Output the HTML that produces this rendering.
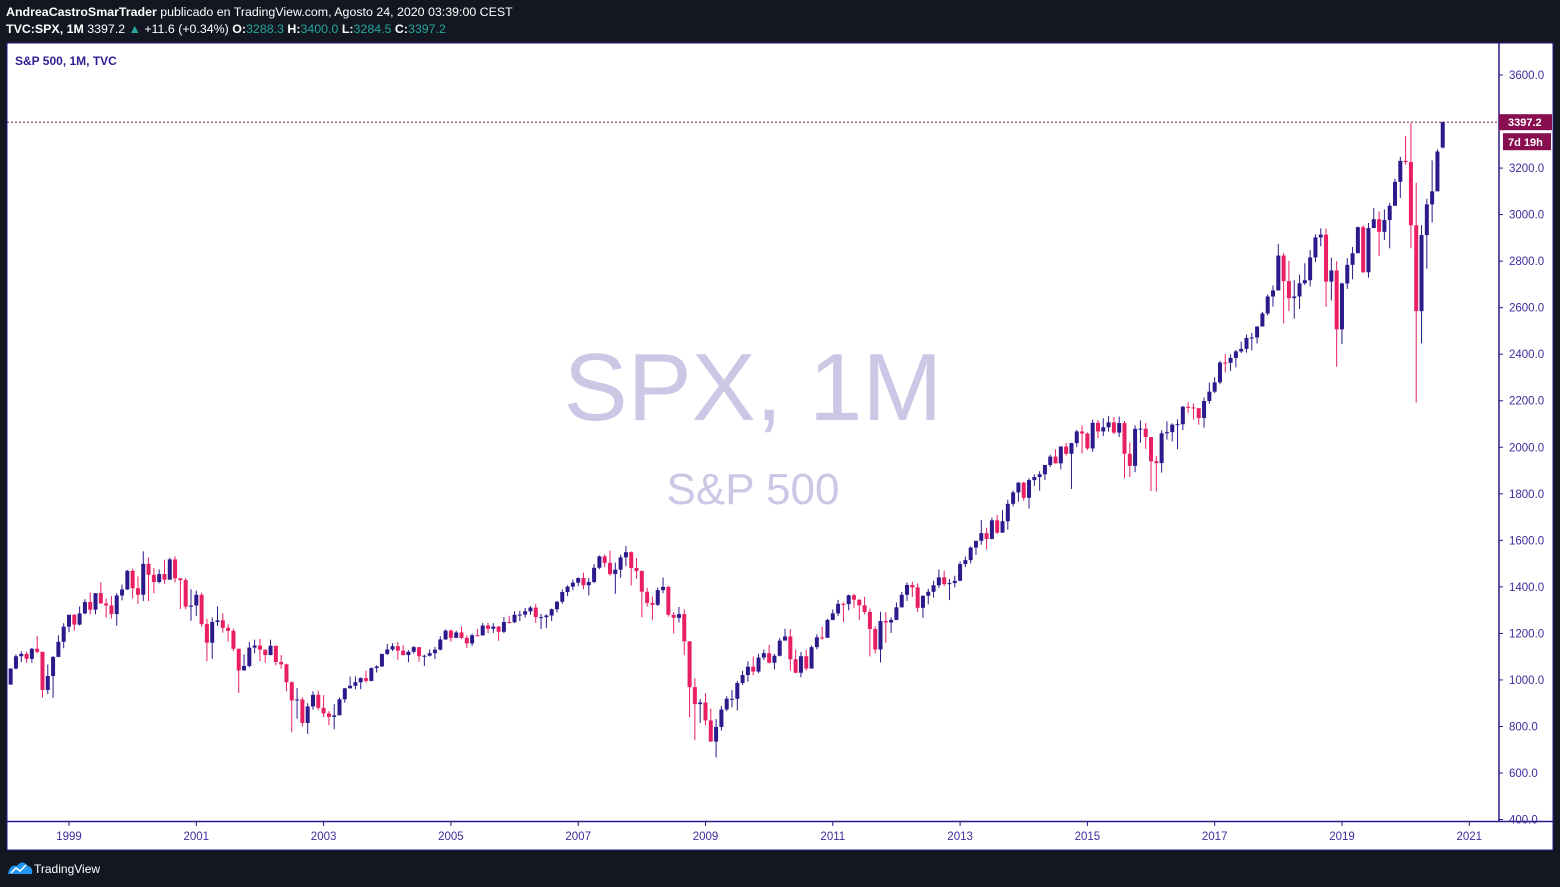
<!DOCTYPE html>
<html><head><meta charset="utf-8"><style>
body{margin:0;width:1560px;height:887px;background:#131722;overflow:hidden;font-family:"Liberation Sans",sans-serif;position:relative}
.hdr{position:absolute;left:6px;color:#fff;font-size:12.4px;white-space:nowrap}
.g{color:#26a69a}
svg{position:absolute;left:0;top:0}
</style></head><body>
<div class="hdr" style="top:5px"><b>AndreaCastroSmarTrader</b> publicado en TradingView.com, Agosto 24, 2020 03:39:00 CEST</div>
<div class="hdr" style="top:22px"><b>TVC:SPX, 1M</b> 3397.2 <span class="g">▲</span> +11.6 (+0.34%) <b>O:</b><span class="g">3288.3</span> <b>H:</b><span class="g">3400.0</span> <b>L:</b><span class="g">3284.5</span> <b>C:</b><span class="g">3397.2</span></div>
<svg id="c" width="1560" height="887"></svg>
<script>
const startYear=1998, startMonth=1; // Feb 1998
const closes=[1049,1102,1112,1091,1134,1121,957,1017,1099,1164,1229,
1280,1238,1286,1335,1302,1373,1329,1320,1283,1363,1389,1469,
1394,1366,1499,1452,1421,1455,1431,1518,1437,1429,1315,1320,
1366,1240,1160,1249,1256,1224,1211,1134,1041,1060,1139,1148,
1130,1107,1147,1077,1067,990,912,916,815,886,936,880,
856,841,848,917,964,975,990,1008,996,1051,1058,1112,
1131,1145,1126,1107,1121,1141,1102,1104,1115,1130,1174,1212,
1181,1204,1181,1157,1192,1191,1234,1220,1229,1207,1249,1248,
1280,1281,1295,1311,1270,1270,1277,1304,1336,1378,1401,1418,
1438,1407,1421,1482,1531,1503,1455,1474,1527,1549,1481,1468,
1379,1331,1323,1386,1400,1280,1267,1283,1166,969,896,903,
826,735,798,873,919,919,987,1021,1057,1036,1096,1115,
1074,1104,1169,1187,1089,1031,1102,1049,1141,1183,1181,1258,
1286,1327,1326,1364,1345,1321,1292,1219,1131,1253,1247,1258,
1312,1366,1408,1398,1310,1362,1379,1407,1441,1412,1416,1426,
1498,1515,1569,1598,1631,1606,1686,1633,1682,1757,1806,1848,
1783,1859,1872,1884,1924,1960,1931,2003,1972,2018,2068,2059,
1995,2105,2068,2086,2107,2063,2104,1972,1920,2079,2080,2044,
1940,1932,2060,2065,2097,2099,2174,2171,2168,2126,2199,2239,
2279,2364,2363,2384,2412,2423,2470,2472,2519,2575,2648,2674,
2824,2714,2641,2648,2705,2718,2816,2902,2914,2712,2760,2507,
2704,2784,2834,2946,2752,2942,2980,2926,2977,3038,3141,3231,
3226,2954,2585,2912,3044,3100,3271,3397.2];
const highs=[1050,1110,1123,1122,1138,1190,1121,1066,1103,1192,1244,
1280,1283,1316,1347,1375,1373,1420,1350,1361,1373,1410,1473,
1478,1445,1553,1527,1482,1475,1517,1525,1531,1437,1438,1390,
1384,1376,1263,1269,1316,1286,1239,1220,1135,1110,1163,1173,
1176,1131,1173,1147,1107,1070,994,965,925,900,951,954,
935,866,896,924,965,1015,1015,1011,1040,1054,1063,1112,
1155,1158,1163,1150,1128,1146,1141,1109,1131,1142,1188,1217,
1217,1212,1229,1191,1199,1219,1245,1246,1244,1233,1270,1276,
1295,1297,1310,1318,1326,1284,1282,1307,1340,1389,1407,1431,
1441,1461,1438,1498,1535,1540,1556,1504,1538,1576,1552,1524,
1471,1396,1359,1397,1440,1404,1292,1314,1304,1167,1007,918,
943,877,832,888,930,957,996,1039,1080,1101,1113,1130,
1151,1112,1180,1220,1219,1131,1120,1129,1148,1196,1228,1263,
1303,1344,1333,1367,1371,1346,1357,1307,1230,1293,1292,1269,
1333,1378,1419,1422,1415,1363,1392,1426,1475,1470,1434,1448,
1509,1530,1574,1597,1687,1654,1698,1709,1730,1775,1814,1850,
1851,1867,1884,1897,1924,1968,1991,2005,2019,2019,2075,2094,
2064,2119,2117,2125,2135,2130,2132,2113,2021,2094,2116,2104,
2038,1962,2073,2111,2103,2120,2178,2194,2188,2169,2214,2278,
2301,2371,2401,2399,2418,2454,2484,2491,2520,2582,2657,2695,
2873,2835,2801,2718,2742,2791,2848,2916,2941,2940,2815,2800,
2708,2813,2861,2949,2954,2964,3028,3014,3022,3050,3154,3248,
3338,3394,3137,2955,3068,3233,3280,3400];
const lows=[980,1045,1076,1074,1074,1114,924,939,923,1098,1136,
1205,1212,1234,1282,1281,1282,1328,1268,1264,1233,1342,1387,
1350,1326,1339,1339,1373,1415,1413,1431,1419,1305,1304,1254,
1274,1229,1081,1091,1232,1203,1165,1124,944,1040,1054,1114,
1081,1074,1106,1063,1048,952,775,833,800,768,872,870,
840,806,788,848,902,963,960,960,988,994,1032,1056,
1107,1124,1087,1105,1076,1113,1078,1060,1101,1090,1127,1173,
1164,1180,1176,1137,1146,1188,1191,1201,1201,1168,1201,1243,
1245,1253,1268,1280,1245,1219,1224,1253,1290,1327,1360,1385,
1403,1389,1363,1416,1476,1484,1448,1370,1439,1489,1406,1435,
1270,1316,1257,1318,1373,1272,1200,1247,1106,839,741,815,
805,734,667,783,866,882,869,978,992,1020,1029,1086,
1071,1045,1101,1170,1040,1029,1011,1040,1049,1131,1173,1186,
1257,1275,1249,1299,1311,1258,1282,1101,1114,1075,1159,1202,
1258,1311,1340,1357,1292,1267,1325,1354,1396,1403,1343,1398,
1426,1485,1501,1537,1581,1560,1604,1627,1633,1646,1746,1767,
1770,1737,1834,1814,1859,1915,1930,1905,1964,1821,2001,1973,
1988,1980,2039,2048,2067,2056,2044,1867,1872,1893,2019,1993,
1812,1810,1891,2033,2025,1992,2074,2147,2119,2097,2084,2187,
2233,2271,2322,2328,2344,2405,2407,2417,2446,2520,2566,2605,
2682,2533,2585,2553,2594,2698,2691,2796,2864,2603,2631,2346,
2443,2681,2722,2848,2750,2729,2952,2822,2891,2855,3050,3071,
3214,2855,2192,2447,2767,2966,3101,3284.5];
const firstOpen=980, lastOpen=3288.3;
const priceTicks=[400,600,800,1000,1200,1400,1600,1800,2000,2200,2400,2600,2800,3000,3200,3600];
const yearTicks=[1999,2001,2003,2005,2007,2009,2011,2013,2015,2017,2019,2021];

const NS="http://www.w3.org/2000/svg",svg=document.getElementById('c');
const yS=v=>75+(3600-v)*0.23267;
const xM=i=>69+((startYear-1999)*12+startMonth+i)*5.304;
const xY=y=>69+(y-1999)*63.65;
function mk(t,a,p){const e=document.createElementNS(NS,t);for(const k in a)e.setAttribute(k,a[k]);(p||svg).appendChild(e);return e;}
let e;
e=mk('rect',{x:7,y:43,width:1546,height:807,fill:'#fff'});


e=mk('text',{x:753,y:420,'font-size':96,fill:'#cdc7e6','text-anchor':'middle','font-family':'Liberation Sans, sans-serif'});e.textContent='SPX, 1M';


e=mk('text',{x:753,y:504,'font-size':44,fill:'#cdc7e6','text-anchor':'middle','font-family':'Liberation Sans, sans-serif'});e.textContent='S&P 500';


e=mk('text',{x:15,y:65,'font-size':12,'font-weight':'bold',fill:'#311b92'});e.textContent='S&P 500, 1M, TVC';


const up='#2a1a8c',dn='#e91e63';
closes.forEach((c,i)=>{
  const o=i===0?firstOpen:(i===closes.length-1?lastOpen:closes[i-1]);
  const col=c>=o?up:dn,x=xM(i);
  const g=mk('g',{});
  
  
  mk('line',{x1:x,x2:x,y1:yS(highs[i]),y2:yS(lows[i]),stroke:col,'stroke-width':1},g);
  const t=yS(Math.max(o,c)),b=yS(Math.min(o,c));
  mk('rect',{x:x-2,y:t,width:4,height:Math.max(1,b-t),fill:col},g);
});
const last=closes[closes.length-1];
e=mk('line',{x1:7,x2:1499,y1:yS(last),y2:yS(last),stroke:'#880e4f','stroke-dasharray':'2,2','stroke-width':1});


e=mk('rect',{x:1499,y:43,width:54,height:807,fill:'#fff'});


mk('line',{x1:1499,x2:1499,y1:43,y2:850,stroke:'#2a1a8c','stroke-width':1.5});
e=mk('rect',{x:7,y:822,width:1546,height:28,fill:'#fff'});


mk('line',{x1:7,x2:1553,y1:821.5,y2:821.5,stroke:'#2a1a8c','stroke-width':1.5});
mk('rect',{x:7,y:43,width:1546,height:807,fill:'none',stroke:'#2a1a8c','stroke-width':1});
priceTicks.forEach(v=>{const y=yS(v);
  mk('line',{x1:1499,x2:1503,y1:y,y2:y,stroke:'#2a1a8c'});
  e=mk('text',{x:1509,y:y+4,'font-size':11.5,fill:'#3b2d9c'});e.textContent=v.toFixed(1);
  
  
});
yearTicks.forEach(yr=>{const x=xY(yr);
  mk('line',{x1:x,x2:x,y1:822,y2:826,stroke:'#2a1a8c'});
  e=mk('text',{x:x,y:840,'font-size':11.5,fill:'#3b2d9c','text-anchor':'middle'});e.textContent=yr;
  
  
});
const ly=yS(last);
e=mk('rect',{x:1499,y:ly-8,width:53,height:16,fill:'#880e4f'});


e=mk('text',{x:1508,y:ly+4,'font-size':11,'font-weight':'bold',fill:'#fff'});e.textContent=last.toFixed(1);


e=mk('rect',{x:1503,y:ly+11,width:48,height:17,fill:'#880e4f'});


e=mk('text',{x:1508,y:ly+24,'font-size':11,'font-weight':'bold',fill:'#fff'});e.textContent='7d 19h';


const lg=mk('g',{});


mk('path',{d:'M8 874 Q10 864 17 866 Q22 859 28 866 Q33 867 32 874 Z',fill:'#2196f3'},lg);
mk('path',{d:'M11 873 L16 868 L20 871 L26 865',stroke:'#fff','stroke-width':1.5,fill:'none'},lg);
e=mk('text',{x:34,y:873,'font-size':12,fill:'#fff'},lg);e.textContent='TradingView';
</script>
</body></html>
